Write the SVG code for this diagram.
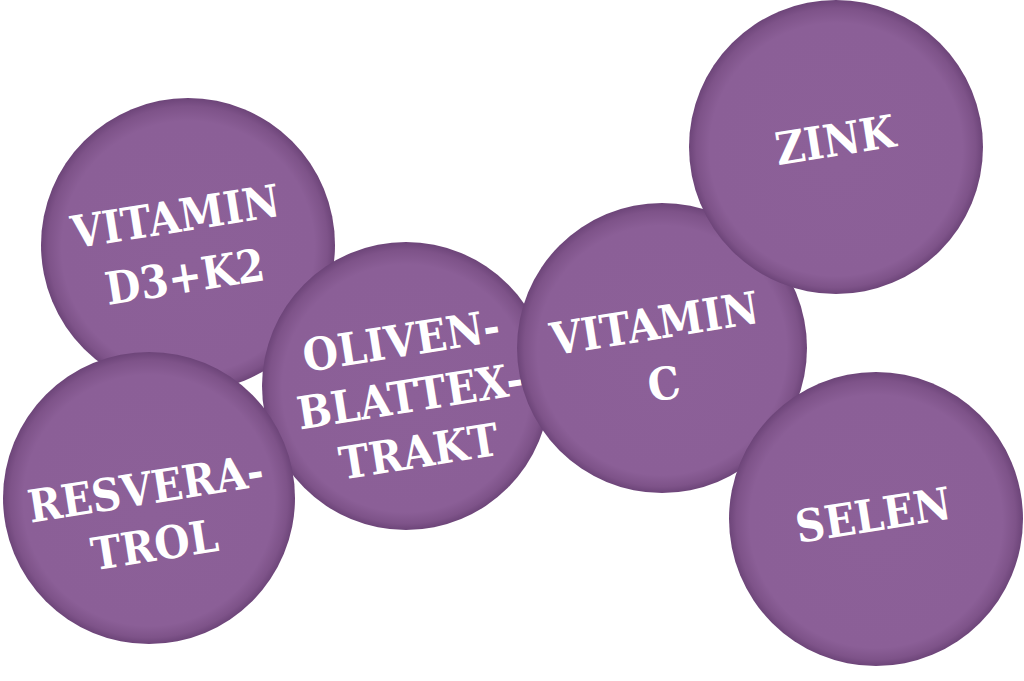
<svg xmlns="http://www.w3.org/2000/svg" width="1024" height="681" viewBox="0 0 1024 681">
<style>
.ball{fill:url(#g)}
.lbl{fill:#ffffff;font-family:"DejaVu Serif Condensed","DejaVu Serif",serif;font-stretch:condensed;font-weight:bold;font-size:45px;text-anchor:middle}
</style>
<defs>
<radialGradient id="g" cx="0.5" cy="0.5" r="0.5" fx="0.5" fy="0.56">
<stop offset="0" stop-color="#8c6098"/>
<stop offset="0.86" stop-color="#8b5f97"/>
<stop offset="0.95" stop-color="#7e5389"/>
<stop offset="1" stop-color="#6d4579"/>
</radialGradient>
</defs>
<rect width="1024" height="681" fill="#ffffff"/>
<g id="connectors"/>
<g id="vitamin-d3k2">
<circle class="ball" cx="188" cy="245" r="147"/>
<g transform="translate(180,246) rotate(-9)"><text class="lbl" x="0" y="-14">VITAMIN</text><text class="lbl" x="0" y="47">D3+K2</text></g>
</g>
<g id="olivenblattextrakt">
<circle class="ball" cx="406" cy="386" r="144"/>
<g transform="translate(410,396) rotate(-9)"><text class="lbl" x="0" y="-40">OLIVEN-</text><text class="lbl" x="0" y="16">BLATTEX-</text><text class="lbl" x="0" y="72">TRAKT</text></g>
</g>
<g id="resveratrol">
<circle class="ball" cx="149" cy="498" r="146"/>
<g transform="translate(150,516) rotate(-9)"><text class="lbl" x="0" y="-12">RESVERA-</text><text class="lbl" x="0" y="45">TROL</text></g>
</g>
<g id="vitamin-c">
<circle class="ball" cx="662" cy="348" r="145"/>
<g transform="translate(659,353) rotate(-9)"><text class="lbl" x="0" y="-14">VITAMIN</text><text class="lbl" x="0" y="47">C</text></g>
</g>
<g id="zink">
<circle class="ball" cx="836" cy="147" r="147"/>
<g transform="translate(835,140) rotate(-9)"><text class="lbl" x="0" y="16">ZINK</text></g>
</g>
<g id="selen">
<circle class="ball" cx="876" cy="519" r="147"/>
<g transform="translate(873,515) rotate(-9)"><text class="lbl" x="0" y="16">SELEN</text></g>
</g>
</svg>
